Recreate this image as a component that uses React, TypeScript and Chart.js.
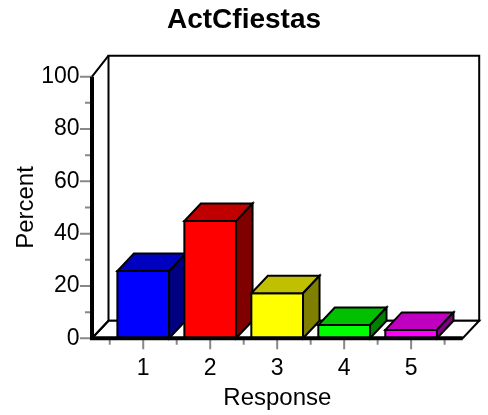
import { useEffect, useRef } from 'react';
import { Chart, registerables } from 'chart.js';

Chart.register(...registerables);

const chartTitle = 'ActCfiestas';
const xTitle = 'Response';
const yTitle = 'Percent';
const categories = [1, 2, 3, 4, 5];
const percents = [25.7, 44.8, 17.2, 5.1, 3.2];
const frontColors = ['#0000FF', '#FF0000', '#FFFF00', '#00FF00', '#FF00FF'];
const topColors = ['#0000C0', '#C00000', '#C0C000', '#00C000', '#C000C0'];
const sideColors = ['#000080', '#800000', '#808000', '#008000', '#800080'];
const yMajorTicks = [0, 20, 40, 60, 80, 100];
const yMinorTicks = [10, 30, 50, 70, 90];
const xMinorTicks = [0.5, 1.5, 2.5, 3.5, 4.5, 5.5];

const FONT = "'Liberation Sans', Arial, Helvetica, sans-serif";
const DX = 16.5;
const DY = -17.5;
const WALL_EXTRA = -3.5;
const TICK_GRAY = '#888888';

function poly(ctx: CanvasRenderingContext2D, pts: number[][], fill: string) {
  ctx.beginPath();
  ctx.moveTo(pts[0][0], pts[0][1]);
  for (let i = 1; i < pts.length; i++) ctx.lineTo(pts[i][0], pts[i][1]);
  ctx.closePath();
  ctx.fillStyle = fill;
  ctx.fill();
  ctx.stroke();
}

const depthPlugin = {
  id: 'depth3d',
  beforeDatasetsDraw(chart: any) {
    const { ctx, scales } = chart;
    const x = scales.x;
    const y = scales.y;
    const x0 = x.getPixelForValue(x.min);
    const x1 = x.getPixelForValue(x.max);
    const yb = y.getPixelForValue(0);
    const yt = y.getPixelForValue(100);
    ctx.save();
    ctx.strokeStyle = '#000';
    ctx.lineWidth = 2;
    ctx.lineJoin = 'miter';
    // back wall
    ctx.fillStyle = '#fff';
    ctx.beginPath();
    ctx.rect(x0 + DX, yt + DY + WALL_EXTRA, x1 - x0, yb - yt - WALL_EXTRA);
    ctx.fill();
    ctx.stroke();
    // floor
    poly(ctx, [[x0, yb], [x1, yb], [x1 + DX, yb + DY], [x0 + DX, yb + DY]], '#fff');
    ctx.restore();
  },
  beforeDatasetDraw() {
    return false;
  },
  afterDatasetsDraw(chart: any) {
    const { ctx, scales } = chart;
    const x = scales.x;
    const y = scales.y;
    const x0 = x.getPixelForValue(x.min);
    const x1 = x.getPixelForValue(x.max);
    const yb = y.getPixelForValue(0);
    const yt = y.getPixelForValue(100);
    const meta = chart.getDatasetMeta(0);
    ctx.save();
    meta.data.forEach((el: any, i: number) => {
      const p = el.getProps(['x', 'y', 'base', 'width'], true);
      const l = p.x - p.width / 2;
      const r = p.x + p.width / 2;
      const top = p.y;
      const base = p.base;
      ctx.strokeStyle = '#000';
      ctx.lineWidth = 2;
      ctx.lineJoin = 'miter';
      poly(ctx, [[l, base], [l, top], [r, top], [r, base]], frontColors[i]);
      poly(ctx, [[l, top], [r, top], [r + DX, top + DY], [l + DX, top + DY]], topColors[i]);
      poly(ctx, [[r, top], [r + DX, top + DY], [r + DX, base + DY], [r, base]], sideColors[i]);
    });
    // ticks
    ctx.strokeStyle = TICK_GRAY;
    ctx.lineWidth = 2;
    ctx.beginPath();
    yMajorTicks.forEach((v) => {
      const py = y.getPixelForValue(v);
      ctx.moveTo(x0 - 12, py);
      ctx.lineTo(x0, py);
    });
    yMinorTicks.forEach((v) => {
      const py = y.getPixelForValue(v);
      ctx.moveTo(x0 - 7, py);
      ctx.lineTo(x0, py);
    });
    categories.forEach((v) => {
      const px = x.getPixelForValue(v);
      ctx.moveTo(px, yb);
      ctx.lineTo(px, yb + 11);
    });
    xMinorTicks.forEach((v) => {
      const px = x.getPixelForValue(v);
      ctx.moveTo(px, yb);
      ctx.lineTo(px, yb + 6.5);
    });
    ctx.stroke();
    // front axes
    ctx.strokeStyle = '#000';
    ctx.lineWidth = 2;
    ctx.beginPath();
    ctx.moveTo(x0, yt);
    ctx.lineTo(x0 + DX, yt + DY + WALL_EXTRA);
    ctx.moveTo(x0, yb);
    ctx.lineTo(x0 + DX, yb + DY);
    ctx.stroke();
    ctx.lineWidth = 4;
    ctx.beginPath();
    ctx.moveTo(x0, yt);
    ctx.lineTo(x0, yb);
    ctx.lineTo(x1, yb);
    ctx.stroke();
    ctx.restore();
  },
};

export default function App() {
  const ref = useRef<HTMLCanvasElement | null>(null);
  useEffect(() => {
    if (!ref.current) return;
    const chart = new Chart(ref.current, {
      type: 'bar',
      data: {
        datasets: [
          {
            data: categories.map((c, i) => ({ x: c, y: percents[i] })),
            backgroundColor: frontColors,
            borderColor: '#000',
            borderWidth: 2,
            barPercentage: 0.772,
            categoryPercentage: 1,
          },
        ],
      },
      options: {
        responsive: false,
        animation: false,
        devicePixelRatio: 1,
        layout: { padding: 0 },
        plugins: {
          legend: { display: false },
          tooltip: { enabled: false },
          title: {
            display: true,
            text: chartTitle,
            color: '#000',
            font: { family: FONT, size: 28, weight: 'bold' },
            padding: { top: 3.2, bottom: 39.9 },
          },
        },
        scales: {
          x: {
            type: 'linear',
            min: 0.235,
            max: 5.77,
            offset: false,
            grid: { display: false, drawTicks: false, offset: false },
            border: { display: false },
            afterBuildTicks: (s: any) => {
              s.ticks = categories.map((v) => ({ value: v }));
            },
            ticks: {
              color: '#000',
              font: { family: FONT, size: 23 },
              padding: 17,
              autoSkip: false,
              maxRotation: 0,
              callback: (v: any) => String(v),
            },
            title: {
              display: true,
              text: xTitle,
              color: '#000',
              font: { family: FONT, size: 24 },
              padding: { top: 0, bottom: 2 },
            },
            afterFit: (s: any) => {
              s.height = 76.7;
            },
          },
          y: {
            type: 'linear',
            min: 0,
            max: 100,
            grid: { display: false, drawTicks: false },
            border: { display: false },
            ticks: {
              stepSize: 20,
              color: '#000',
              font: { family: FONT, size: 23 },
              padding: 12.5,
            },
            title: {
              display: true,
              text: yTitle,
              color: '#000',
              font: { family: FONT, size: 24 },
              padding: { top: 12.3, bottom: 0 },
            },
            afterFit: (s: any) => {
              s.width = 92;
            },
          },
          yr: {
            type: 'linear',
            position: 'right',
            display: true,
            grid: { display: false, drawTicks: false },
            border: { display: false },
            ticks: { display: false },
            afterFit: (s: any) => {
              s.width = 25.3;
            },
          },
        },
      },
      plugins: [depthPlugin],
    } as any);
    return () => chart.destroy();
  }, []);
  return (
    <div style={{ position: 'absolute', left: 0, top: 0, width: 488, height: 415, background: '#fff' }}>
      <canvas ref={ref} width={488} height={415} style={{ display: 'block', width: 488, height: 415 }} />
    </div>
  );
}
